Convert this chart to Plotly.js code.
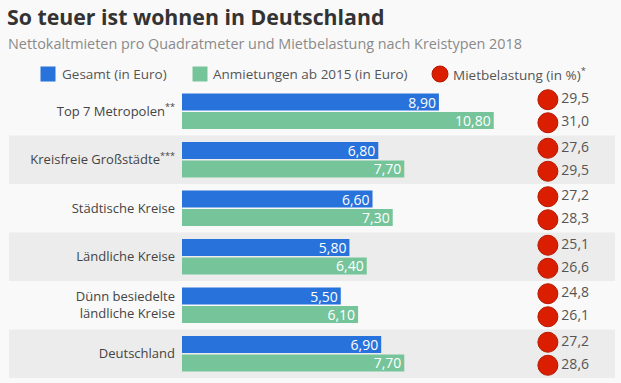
<!DOCTYPE html>
<html>
<head>
<meta charset="utf-8">
<script src="https://cdn.plot.ly/plotly-3.0.1.min.js"></script>
<style>
  html, body { margin: 0; padding: 0; background: #f9f9f9; }
  #chart { width: 621px; height: 383px; }
</style>
</head>
<body>
<div id="chart"></div>
<script>
// ---- data ----
const categories = [
  "Top 7 Metropolen<sup>**</sup>",
  "Kreisfreie Großstädte<sup>***</sup>",
  "Städtische Kreise",
  "Ländliche Kreise",
  "Dünn besiedelte<br>ländliche Kreise",
  "Deutschland"
];
const rentTotal = [8.90, 6.80, 6.60, 5.80, 5.50, 6.90];
const rentNew = [10.80, 7.70, 7.30, 6.40, 6.10, 7.70];
const burdenTotal = [29.5, 27.6, 27.2, 25.1, 24.8, 27.2];
const burdenNew = [31.0, 29.5, 28.3, 26.6, 26.1, 28.6];
const seriesNames = ["Gesamt (in Euro)", "Anmietungen ab 2015 (in Euro)", "Mietbelastung (in %)<sup>*</sup>"];
const burdenColumn = "Mietbelastung";

const BLUE = "#2872dc", GREEN = "#76c59a", RED = "#dc1e00", RED_LINE = "#b51800";
const FONT = "Open Sans, sans-serif";

const W = 621, H = 383, ML = 182, MR = 6, MT = 87, MB = 5;
const PW = W - ML - MR, PH = H - MT - MB;
const px = x => (x - ML) / PW;          // pixel -> paper x
const py = y => (H - MB - y) / PH;      // pixel -> paper y

const barText = { color: "#ffffff", size: 14, family: FONT };
const dotText = { color: "#555555", size: 14, family: FONT };
const dotMarker = { color: RED, size: 20, line: { color: RED_LINE, width: 1 } };

const traces = [
  {
    type: "bar", orientation: "h", name: seriesNames[0],
    y: categories, x: rentTotal, marker: { color: BLUE },
    texttemplate: "%{x:.2f}", textposition: "inside", insidetextanchor: "end",
    constraintext: "none", textfont: barText, insidetextfont: barText,
    hoverinfo: "skip", showlegend: false, offsetgroup: "b1", alignmentgroup: "bars"
  },
  {
    type: "bar", orientation: "h", name: seriesNames[1],
    y: categories, x: rentNew, marker: { color: GREEN },
    texttemplate: "%{x:.2f}", textposition: "inside", insidetextanchor: "end",
    constraintext: "none", textfont: barText, insidetextfont: barText,
    hoverinfo: "skip", showlegend: false, offsetgroup: "b2", alignmentgroup: "bars"
  },
  {
    type: "scatter", mode: "markers+text", orientation: "h", name: seriesNames[2],
    xaxis: "x2", y: categories, x: categories.map(() => burdenColumn),
    customdata: burdenTotal, texttemplate: "%{customdata:.1f}", textposition: "middle right",
    textfont: dotText, marker: dotMarker, offsetgroup: "d1", alignmentgroup: "dots",
    showlegend: false, hoverinfo: "skip", cliponaxis: false
  },
  {
    type: "scatter", mode: "markers+text", orientation: "h", name: seriesNames[2] + " neu",
    xaxis: "x2", y: categories, x: categories.map(() => burdenColumn),
    customdata: burdenNew, texttemplate: "%{customdata:.1f}", textposition: "middle right",
    textfont: dotText, marker: dotMarker, offsetgroup: "d2", alignmentgroup: "dots",
    showlegend: false, hoverinfo: "skip", cliponaxis: false
  }
];

// alternating bands
const shapes = [];
categories.forEach((c, i) => {
  if (i % 2 === 1) {
    shapes.push({
      type: "rect", layer: "below", xref: "paper", yref: "y",
      x0: px(9), x1: px(615), y0: i - 0.5, y1: i + 0.5,
      fillcolor: "#ececec", line: { width: 0 }
    });
  }
});

// custom legend
const legY = py(74);
shapes.push({ type: "rect", xref: "paper", yref: "paper", xsizemode: "pixel", ysizemode: "pixel",
  xanchor: px(48), yanchor: legY, x0: -7.5, x1: 7.5, y0: -7.5, y1: 7.5, fillcolor: BLUE, line: { width: 0 } });
shapes.push({ type: "rect", xref: "paper", yref: "paper", xsizemode: "pixel", ysizemode: "pixel",
  xanchor: px(200), yanchor: legY, x0: -7.5, x1: 7.5, y0: -7.5, y1: 7.5, fillcolor: GREEN, line: { width: 0 } });
shapes.push({ type: "circle", xref: "paper", yref: "paper", xsizemode: "pixel", ysizemode: "pixel",
  xanchor: px(440), yanchor: legY, x0: -8, x1: 8, y0: -8, y1: 8, fillcolor: RED, line: { color: RED_LINE, width: 1 } });

const legendFont = { family: FONT, size: 13.5, color: "#555555" };
const annotations = [
  { xref: "paper", yref: "paper", x: px(60), y: legY, xanchor: "left", yanchor: "middle",
    text: seriesNames[0], showarrow: false, font: legendFont },
  { xref: "paper", yref: "paper", x: px(211), y: legY, xanchor: "left", yanchor: "middle",
    text: seriesNames[1], showarrow: false, font: legendFont },
  { xref: "paper", yref: "paper", x: px(451), y: legY, xanchor: "left", yanchor: "middle",
    text: seriesNames[2], showarrow: false, font: legendFont },
  { xref: "paper", yref: "paper", x: px(6), y: py(43), xanchor: "left", yanchor: "middle",
    text: "Nettokaltmieten pro Quadratmeter und Mietbelastung nach Kreistypen 2018",
    showarrow: false, font: { family: FONT, size: 14.4, color: "#8a8a8a" } }
];

const layout = {
  width: W, height: H,
  margin: { l: ML, r: MR, t: MT, b: MB },
  paper_bgcolor: "#f9f9f9", plot_bgcolor: "rgba(0,0,0,0)",
  separators: ",.",
  title: {
    text: "<b>So teuer ist wohnen in Deutschland</b>",
    xref: "container", yref: "container", x: 7 / W, y: 1 - 10 / H,
    xanchor: "left", yanchor: "top",
    font: { family: FONT, size: 21.3, color: "#333333" }
  },
  barmode: "group", bargap: 0.24, bargroupgap: 0.08,
  scattermode: "group", scattergap: 0.05,
  xaxis: { domain: [0, 0.8], range: [0, 12], visible: false, fixedrange: true },
  xaxis2: { domain: [0.8, 1], type: "category", range: [-0.45, 1.55], visible: false, anchor: "y" },
  yaxis: {
    type: "category", autorange: "reversed", showgrid: false, zeroline: false, showline: false,
    ticks: "", ticklabelstandoff: 6,
    tickfont: { family: FONT, size: 13, color: "#444444" }
  },
  shapes: shapes,
  annotations: annotations,
  showlegend: false
};

Plotly.newPlot("chart", traces, layout, { displayModeBar: false, staticPlot: true });
</script>
</body>
</html>
